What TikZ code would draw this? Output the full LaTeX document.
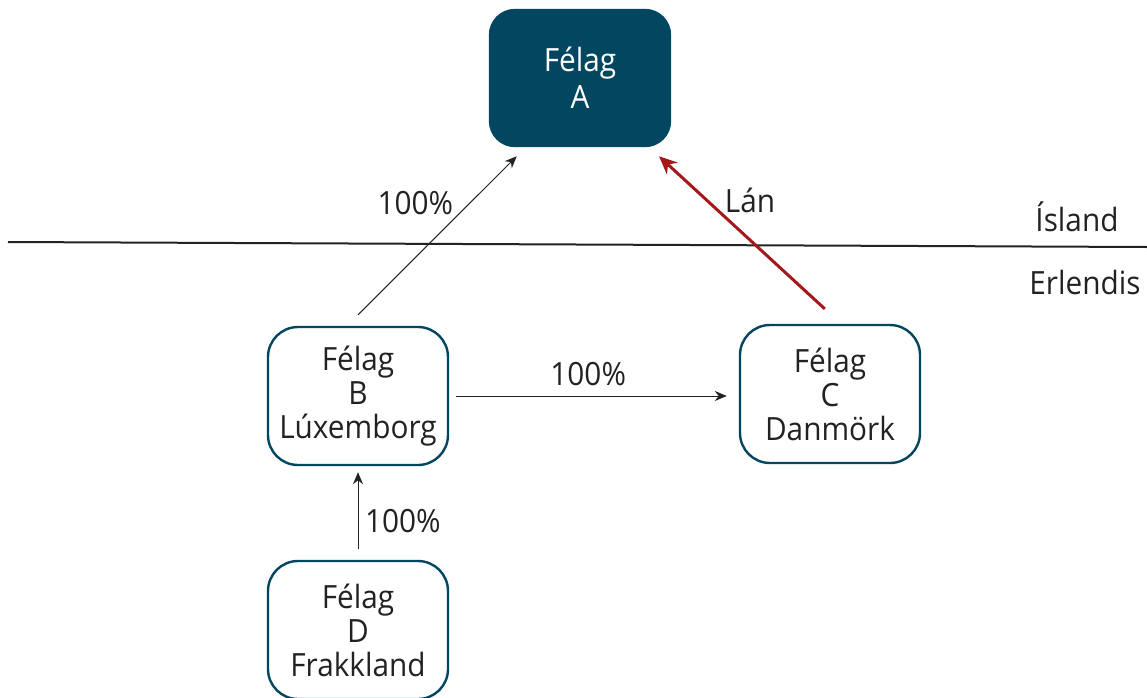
\documentclass[tikz,border=0pt]{standalone}
\usepackage{fontspec}
\setmainfont{Open Sans}[FakeStretch=0.93]
\usetikzlibrary{arrows.meta}
\definecolor{felagblar}{HTML}{03465F}
\definecolor{lanraudur}{HTML}{A3191B}
\definecolor{textgrar}{HTML}{222222}

\begin{document}
\begin{tikzpicture}[x=0.5pt,y=-0.5pt,
    every node/.style={font=\fontsize{16}{17}\selectfont, text=textgrar, align=center},
    felag/.style={draw=felagblar, line width=1.2pt, rounded corners=15pt,
        minimum width=90pt, minimum height=69pt},
    felagA/.style={felag, fill=felagblar, text=white, rounded corners=12.5pt,
        minimum height=68pt, font=\fontsize{16}{18.5}\selectfont},
    eign/.style={-{Stealth[length=6pt,width=5pt]}, line width=0.5pt, textgrar},
    lan/.style={-{Stealth[length=9pt,width=8pt]}, line width=1.5pt, lanraudur}]
    \useasboundingbox (0,0) rectangle (1147,697);

    % felog
    \node[felagA] (A) at (580,78) {Félag\\A};
    \node[felag] (B) at (358,396) {Félag\\B\\Lúxemborg};
    \node[felag] (C) at (830,394) {Félag\\C\\Danmörk};
    \node[felag] (D) at (358,630) {Félag\\D\\Frakkland};

    % landamaeri
    \coordinate (lineW) at (8,242);
    \coordinate (lineE) at (1147,247);
    \draw[line width=1pt, textgrar] (lineW) -- (lineE);
    \node (island) at (1077,217) {Ísland};
    \node (erlendis) at (1085,282) {Erlendis};

    % eignarhald og lan
    \path[eign] ([xshift=-5.5pt]B.north) edge[shorten <=7.8pt, shorten >=6.4pt]
        node[pos=0.69, left=5pt] (eignBA) {100\%} ([xshift=18.5pt]A.south west);
    \path[lan] ([xshift=5.5pt]C.north) edge[shorten <=11pt, shorten >=6.7pt]
        node[pos=0.70, right=5pt] (lanCA) {Lán} ([xshift=-11pt]A.south east);
    \path[eign] (B.east) edge[shorten <=3.5pt, shorten >=6pt]
        node[pos=0.48, above=1.5pt] (eignBC) {100\%} (B.east -| C.west);
    \path[eign] (D.north) edge[shorten <=5.5pt, shorten >=3pt]
        node[pos=0.41, right] (eignDB) {100\%} (B.south);
\end{tikzpicture}
\end{document}
